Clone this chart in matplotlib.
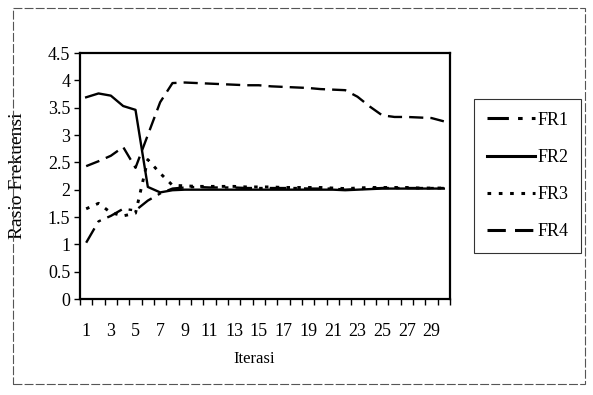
import numpy as np
import matplotlib
matplotlib.use("Agg")
import matplotlib.pyplot as plt
from matplotlib.patches import Rectangle

plt.rcParams['font.family'] = ['Liberation Serif', 'DejaVu Serif']

# iterasi 1..30
iterasi = list(range(1, 31))

fr1 = [1.03, 1.42, 1.52, 1.65, 1.62, 1.80, 1.93, 2.02, 2.04, 2.05,
       2.04, 2.04, 2.04, 2.03, 2.03, 2.03, 2.03, 2.03, 2.02, 2.02,
       2.02, 2.00, 2.01, 2.02, 2.03, 2.03, 2.03, 2.03, 2.03, 2.03]
fr2 = [3.69, 3.76, 3.72, 3.53, 3.46, 2.05, 1.95, 1.99, 2.00, 2.00,
       2.00, 2.00, 2.00, 2.00, 2.00, 2.00, 2.00, 2.00, 2.00, 2.00,
       2.00, 1.99, 2.00, 2.01, 2.02, 2.02, 2.02, 2.02, 2.02, 2.02]
fr3 = [1.65, 1.75, 1.58, 1.52, 1.57, 2.55, 2.30, 2.08, 2.07, 2.06,
       2.06, 2.06, 2.06, 2.05, 2.05, 2.05, 2.04, 2.04, 2.04, 2.04,
       2.03, 2.02, 2.03, 2.04, 2.04, 2.04, 2.04, 2.03, 2.03, 2.03]
fr4 = [2.43, 2.52, 2.62, 2.78, 2.40, 3.00, 3.60, 3.95, 3.96, 3.95,
       3.94, 3.93, 3.92, 3.91, 3.91, 3.89, 3.88, 3.87, 3.86, 3.84,
       3.83, 3.82, 3.70, 3.52, 3.36, 3.33, 3.33, 3.32, 3.31, 3.25]

yticks = [0, 0.5, 1, 1.5, 2, 2.5, 3, 3.5, 4, 4.5]
ytick_labels = ["0", "0.5", "1", "1.5", "2", "2.5", "3", "3.5", "4", "4.5"]

fig = plt.figure(figsize=(5.93, 3.95), dpi=100)
ax = fig.add_axes([80/593, 1 - 299/395, 370/593, 246/395])

x = np.arange(len(iterasi))
ax.plot(x, fr1, color='black', linestyle=(0, (7, 3, 1.5, 3)), linewidth=1.7, label='FR1')
ax.plot(x, fr2, color='black', linestyle='-', linewidth=1.7, label='FR2')
ax.plot(x, fr3, color='black', linestyle=(0, (1.2, 2.5)), linewidth=2.1, label='FR3')
ax.plot(x, fr4, color='black', linestyle=(0, (6, 3)), linewidth=1.7, label='FR4')

ax.set_xlim(-0.5, len(iterasi) - 0.5)
ax.set_ylim(0, 4.5)
ax.set_yticks(yticks)
ax.set_yticklabels(ytick_labels, fontsize=13)

# label tiap dua iterasi, tick di batas kategori
ax.set_xticks(x[::2])
ax.set_xticklabels([str(i) for i in iterasi[::2]], fontsize=13)
ax.set_xticks(np.arange(-0.5, len(iterasi)), minor=True)
ax.tick_params(axis='x', which='major', length=0, pad=17)
ax.tick_params(axis='x', which='minor', length=4, width=1, direction='out')
ax.tick_params(axis='y', length=4, width=1, direction='out', pad=3)

for s in ax.spines.values():
    s.set_linewidth(1.6)

ax.set_xlabel("Iterasi", fontsize=12)
ax.xaxis.set_label_coords(0.47, -0.21)
ax.set_ylabel("Rasio Frekuensi", fontsize=14)
ax.yaxis.set_label_coords(-0.145, 0.5)

leg = fig.legend(loc='upper left', bbox_to_anchor=(474/593, 1 - 99/395),
                 frameon=True, fontsize=13, handlelength=2.7, handletextpad=0.1,
                 labelspacing=1.12, borderpad=0.7, borderaxespad=0,
                 fancybox=False)
leg.get_frame().set_edgecolor('black')
leg.get_frame().set_linewidth(0.8)
for line in leg.get_lines():
    line.set_linewidth(2.2)

# bingkai luar hasil scan
fig.patches.append(Rectangle((13/593, 1 - 384/395), 572/593, 376/395,
                             transform=fig.transFigure, fill=False,
                             edgecolor='#555555', linewidth=0.8,
                             linestyle=(0, (8, 2))))

fig.savefig("out.png", dpi=100)
